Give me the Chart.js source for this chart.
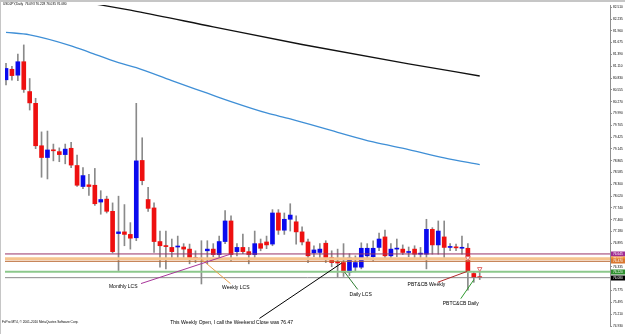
<!DOCTYPE html>
<html>
<head>
<meta charset="utf-8">
<script src="https://cdn.jsdelivr.net/npm/chart.js@4.4.1/dist/chart.umd.min.js"></script>
<style>
  html, body { margin: 0; padding: 0; background: #fff; }
  canvas { display: block; }
</style>
</head>
<body>
<canvas id="chart" width="625" height="334"></canvas>
<script>
// USDJPY daily, 5 Jul – 25 Oct 2011
const dates = [
  '5 Jul 2011','6 Jul 2011','7 Jul 2011','8 Jul 2011','11 Jul 2011','12 Jul 2011','13 Jul 2011','14 Jul 2011','15 Jul 2011','18 Jul 2011',
  '19 Jul 2011','20 Jul 2011','21 Jul 2011','22 Jul 2011','25 Jul 2011','26 Jul 2011','27 Jul 2011','28 Jul 2011','29 Jul 2011','1 Aug 2011',
  '2 Aug 2011','3 Aug 2011','4 Aug 2011','5 Aug 2011','8 Aug 2011','9 Aug 2011','10 Aug 2011','11 Aug 2011','12 Aug 2011','15 Aug 2011',
  '16 Aug 2011','17 Aug 2011','18 Aug 2011','19 Aug 2011','22 Aug 2011','23 Aug 2011','24 Aug 2011','25 Aug 2011','26 Aug 2011','29 Aug 2011',
  '30 Aug 2011','31 Aug 2011','1 Sep 2011','2 Sep 2011','5 Sep 2011','6 Sep 2011','7 Sep 2011','8 Sep 2011','9 Sep 2011','12 Sep 2011',
  '13 Sep 2011','14 Sep 2011','15 Sep 2011','16 Sep 2011','19 Sep 2011','20 Sep 2011','21 Sep 2011','22 Sep 2011','23 Sep 2011','26 Sep 2011',
  '27 Sep 2011','28 Sep 2011','29 Sep 2011','30 Sep 2011','3 Oct 2011','4 Oct 2011','5 Oct 2011','6 Oct 2011','7 Oct 2011','10 Oct 2011',
  '11 Oct 2011','12 Oct 2011','13 Oct 2011','14 Oct 2011','17 Oct 2011','18 Oct 2011','19 Oct 2011','20 Oct 2011','21 Oct 2011','24 Oct 2011',
  '25 Oct 2011'
];

const open = [
  80.79, 81.04, 80.90, 81.22, 80.51, 80.23, 79.22, 78.94, 79.11, 79.08,
  79.01, 79.16, 78.75, 78.25, 78.29, 78.28, 77.88, 77.95, 77.66, 77.13,
  77.17, 77.11, 77.03, 78.87, 77.94, 77.74, 76.94, 76.83, 76.80, 76.81,
  76.81, 76.76, 76.56, 76.52, 76.72, 76.76, 76.63, 76.94, 77.43, 76.70,
  76.80, 76.70, 76.63, 76.89, 76.93, 76.88, 77.62, 77.21, 77.47, 77.41,
  77.17, 76.93, 76.67, 76.68, 76.90, 76.56, 76.44, 76.44, 76.21, 76.33,
  76.33, 76.60, 76.58, 76.80, 77.05, 76.60, 76.76, 76.76, 76.68, 76.76,
  76.64, 76.64, 77.23, 76.86, 77.05, 76.80, 76.80, 76.78, 76.78, 76.18,
  76.093
];
const high = [
  81.18, 81.11, 81.40, 81.62, 80.82, 80.35, 79.55, 79.57, 79.26, 79.17,
  79.26, 79.30, 79.00, 78.70, 78.54, 78.68, 78.15, 78.02, 77.86, 78.02,
  77.82, 77.39, 80.23, 79.41, 78.23, 77.86, 77.19, 77.19, 77.00, 77.07,
  76.89, 76.88, 76.72, 76.96, 76.96, 76.89, 77.07, 77.68, 77.55, 76.89,
  77.12, 76.80, 77.19, 77.00, 77.07, 77.70, 77.70, 77.62, 77.84, 77.55,
  77.29, 77.00, 76.84, 76.89, 76.96, 76.72, 76.76, 76.89, 76.65, 76.60,
  76.91, 76.89, 76.96, 77.14, 77.21, 76.89, 77.00, 76.86, 76.81, 76.84,
  76.80, 77.47, 77.27, 77.43, 77.43, 76.89, 76.88, 77.07, 76.89, 76.23,
  76.228
];
const low = [
  80.67, 80.78, 80.77, 80.49, 80.07, 79.15, 78.47, 78.43, 78.86, 78.84,
  78.79, 78.70, 78.25, 78.20, 78.04, 77.80, 77.59, 77.62, 76.67, 76.25,
  76.84, 76.76, 76.96, 78.29, 77.66, 76.68, 76.33, 76.29, 76.56, 76.56,
  76.56, 76.41, 76.44, 75.93, 76.41, 76.58, 76.53, 76.89, 76.48, 76.60,
  76.65, 76.41, 76.56, 76.72, 76.77, 76.84, 77.11, 77.11, 77.19, 76.88,
  76.86, 76.44, 76.58, 76.55, 76.44, 76.34, 76.09, 76.11, 76.13, 76.22,
  76.29, 76.53, 76.48, 76.72, 76.53, 76.53, 76.58, 76.63, 76.58, 76.56,
  76.56, 76.29, 76.64, 76.64, 76.56, 76.72, 76.72, 76.64, 75.78, 75.97,
  76.035
];
const close = [
  81.06, 80.89, 81.22, 80.56, 80.24, 79.22, 78.94, 79.12, 79.10, 79.01,
  79.14, 78.76, 78.28, 78.51, 78.25, 77.84, 77.94, 77.66, 76.70, 77.17,
  77.11, 77.02, 78.86, 78.39, 77.73, 76.94, 76.84, 76.82, 76.70, 76.82,
  76.76, 76.56, 76.52, 76.53, 76.76, 76.63, 76.94, 77.43, 76.63, 76.80,
  76.70, 76.63, 76.89, 76.78, 76.86, 77.62, 77.21, 77.47, 77.57, 77.17,
  76.93, 76.60, 76.74, 76.76, 76.56, 76.44, 76.43, 76.21, 76.55, 76.44,
  76.78, 76.78, 76.78, 77.00, 76.60, 76.76, 76.77, 76.68, 76.69, 76.64,
  76.65, 77.23, 76.86, 77.19, 76.80, 76.81, 76.79, 76.79, 76.23, 76.08,
  76.080
];

// moving averages, read at a handful of bars
const maFastIdx = [0, 4, 11, 14, 19, 22, 28, 34, 38, 44, 48, 56, 62, 68, 74, 80];
const maFast    = [81.92, 81.86, 81.60, 81.45, 81.20, 81.08, 80.77, 80.47, 80.27, 80.00, 79.86, 79.54, 79.31, 79.13, 78.93, 78.77];
const maSlowIdx = [14, 22, 35, 50, 68, 80];
const maSlow    = [82.62, 82.42, 82.05, 81.63, 81.17, 80.88];

const priceTicks = [
  82.510, 82.235, 81.960, 81.675, 81.390, 81.110, 80.830, 80.555, 80.270, 79.990,
  79.705, 79.425, 79.145, 78.865, 78.585, 78.300, 78.020, 77.740, 77.460, 77.180,
  76.895, 76.615, 76.335, 76.055, 75.775, 75.495, 75.210, 74.930
];

// horizontal levels (last one is the bid line)
const levelPrices = [76.645, 76.530, 76.470, 76.220, 76.080];

// hand-drawn trend lines, in bar index / price
const trendFrom = [[22.8, 75.94], [32.9, 76.53], [57.2, 76.21], [56.7, 76.43], [72.9, 75.97], [76.8, 75.58]];
const trendTo   = [[37.9, 76.64], [37.9, 75.94], [59.4, 75.80], [42.8, 75.11], [77.9, 76.23], [79.0, 76.03]];

const noteTexts = ['Monthly LCS', 'Weekly LCS', 'Daily LCS',
  'This Weekly Open, I call the Weekend Close was 76.47', 'PBT&CB Weekly', 'PBTC&CB Daily'];
const noteAt = [[19.8, 75.87], [38.8, 75.85], [59.9, 75.68], [38.1, 75.02], [71.0, 75.92], [76.8, 75.47]];

const arrowIdx   = [78, 80];
const arrowPrice = [76.55, 76.29];

const titleText = 'USDJPY,Daily  76.093 76.228 76.035 76.080';
const copyText  = 'FxPro MT4, \u00a9 2001-2010 MetaQuotes Software Corp.';

// ── styling ────────────────────────────────────────────────────────────────
const FONT = '"Liberation Sans", Arial, sans-serif';
const X_MIN = -0.17, X_MAX = 102.0;
const Y_MIN = 74.93, Y_MAX = 82.57;
const UP = '#0a0aee', DOWN = '#ee1010';
const levelLine  = ['#993366', '#f6c48e', '#b8652e', '#8cc88c', '#8a8a8a'];
const levelWidth = [1, 3, 1, 2, 1];
const levelBox   = ['#a02c93', '#f79a3a', '#d9772f', '#2f8f2f', '#000000'];
const trendColor = ['#a8359a', '#eba04a', '#2e7d32', '#000000', '#b02828', '#2f9a2f'];

const bars = dates.map((d, i) => i);

const datasets = [
  {
    type: 'bar', label: 'wicks', order: 5, grouped: false,
    data: bars.map(i => ({ x: i, y: [low[i], high[i]] })),
    backgroundColor: '#8a8a8a', barThickness: 1,
  },
  {
    type: 'bar', label: 'bodies', order: 4, grouped: false, minBarLength: 1,
    data: bars.map(i => ({ x: i, y: [open[i], close[i]] })),
    backgroundColor: bars.map(i => close[i] >= open[i] ? UP : DOWN),
    barThickness: 4,
  },
  {
    type: 'line', label: 'ma fast', order: 3,
    data: maFastIdx.map((x, k) => ({ x, y: maFast[k] })),
    borderColor: '#3f8fd6', borderWidth: 1.3, pointRadius: 0, cubicInterpolationMode: 'monotone',
  },
  {
    type: 'line', label: 'ma slow', order: 3,
    data: maSlowIdx.map((x, k) => ({ x, y: maSlow[k] })),
    borderColor: '#111', borderWidth: 1.3, pointRadius: 0, cubicInterpolationMode: 'monotone',
  },
];

levelPrices.forEach((p, k) => datasets.push({
  type: 'line', label: 'level ' + p, order: 2,
  data: [{ x: X_MIN, y: p }, { x: X_MAX, y: p }],
  borderColor: levelLine[k], borderWidth: levelWidth[k], pointRadius: 0,
}));

trendFrom.forEach((f, k) => datasets.push({
  type: 'line', label: 'trend ' + k, order: 1,
  data: [{ x: f[0], y: f[1] }, { x: trendTo[k][0], y: trendTo[k][1] }],
  borderColor: trendColor[k], borderWidth: 1, pointRadius: 0,
}));

datasets.push({
  type: 'line', label: 'arrows', order: 0, showLine: false,
  data: arrowIdx.map((x, k) => ({ x, y: arrowPrice[k] })),
  pointStyle: 'triangle', rotation: 180, pointRadius: 2.6,
  pointBackgroundColor: '#fff', pointBorderColor: '#e07070', pointBorderWidth: 1,
});

const overlay = {
  id: 'overlay',
  beforeDraw(chart) {
    const c = chart.ctx;
    c.save();
    c.fillStyle = '#fff';
    c.fillRect(0, 0, chart.width, chart.height);
    c.fillStyle = '#c6c6c6';
    c.fillRect(0, 0, chart.width, 2);
    c.fillRect(0, 0, 1, chart.height);
    c.restore();
  },
  afterDraw(chart) {
    const { ctx: c, scales: { x, y } } = chart;
    c.save();
    c.fillStyle = '#000';
    c.textAlign = 'left';
    c.textBaseline = 'top';
    c.font = `3.2px ${FONT}`;
    c.fillText(titleText, 3, 3);
    c.textBaseline = 'middle';
    c.fillText(copyText, 2, 322);

    c.font = `5px ${FONT}`;
    c.textAlign = 'center';
    noteTexts.forEach((t, k) => {
      c.fillText(t, x.getPixelForValue(noteAt[k][0]), y.getPixelForValue(noteAt[k][1]));
    });

    // price boxes on the right axis
    c.textAlign = 'left';
    c.font = `3.2px ${FONT}`;
    levelPrices.forEach((p, k) => {
      const py = Math.round(y.getPixelForValue(p));
      c.fillStyle = levelBox[k];
      c.fillRect(x.right + 1, py - 2.5, chart.width - x.right - 1, 5);
      c.fillStyle = '#fff';
      c.fillText(p.toFixed(3), x.right + 3, py + 0.3);
    });
    c.restore();
  },
};

new Chart(document.getElementById('chart'), {
  type: 'bar',
  data: { datasets },
  plugins: [overlay],
  options: {
    responsive: false,
    animation: false,
    devicePixelRatio: 1,
    events: [],
    layout: { padding: { left: 1, top: 2, right: 0, bottom: 0 } },
    plugins: { legend: { display: false }, tooltip: { enabled: false } },
    scales: {
      x: {
        type: 'linear', min: X_MIN, max: X_MAX, offset: false,
        grid: { display: false, offset: false },
        border: { display: false },
        afterBuildTicks: (s) => { s.ticks = bars.filter(i => i % 4 === 0).map(i => ({ value: i })); },
        afterFit: (s) => { s.height = 8; },
        ticks: {
          autoSkip: false, maxRotation: 0, align: 'start', padding: 1,
          color: '#000', font: { size: 3.3, family: FONT },
          callback: (v) => dates[v],
        },
      },
      y: {
        position: 'right', min: Y_MIN, max: Y_MAX,
        afterBuildTicks: (s) => { s.ticks = priceTicks.map(v => ({ value: v })); },
        afterFit: (s) => { s.width = 15; },
        grid: { drawOnChartArea: false, tickLength: 2, color: '#909090' },
        border: { color: '#909090' },
        ticks: {
          padding: 1, color: '#000', font: { size: 3.2, family: FONT },
          callback: (v) => Number(v).toFixed(3),
        },
      },
    },
  },
});
</script>
</body>
</html>
